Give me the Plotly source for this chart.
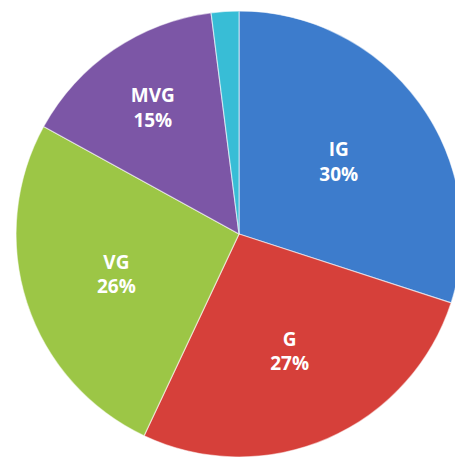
import plotly.graph_objects as go

categories = ["IG", "G", "VG", "MVG", "Other"]
values = [30, 27, 26, 15, 2]
labels_text = ["IG<br>30%", "G<br>27%", "VG<br>26%", "MVG<br>15%", ""]
colors = ["#3d7ccc", "#d6403a", "#9cc646", "#7c56a6", "#38bdd6"]

fig = go.Figure(go.Pie(
    labels=categories,
    values=values,
    text=labels_text,
    textinfo="text",
    textposition="inside",
    insidetextorientation="horizontal",
    sort=False,
    direction="clockwise",
    rotation=0,
    marker=dict(colors=colors, line=dict(color="rgba(255,255,255,0.55)", width=1.2)),
    textfont=dict(family="Open Sans", size=19, color="white"),
    hoverinfo="label+percent",
    domain=dict(x=[0.0173, 0.9806], y=[0.0197, 0.9934]),
    showlegend=False,
))
fig.update_traces(texttemplate="<b>%{text}</b>")
fig.update_layout(
    width=463, height=458,
    margin=dict(l=0, r=0, t=0, b=0),
    paper_bgcolor="white",
    plot_bgcolor="white",
    showlegend=False,
)
fig.write_html("out.html")
